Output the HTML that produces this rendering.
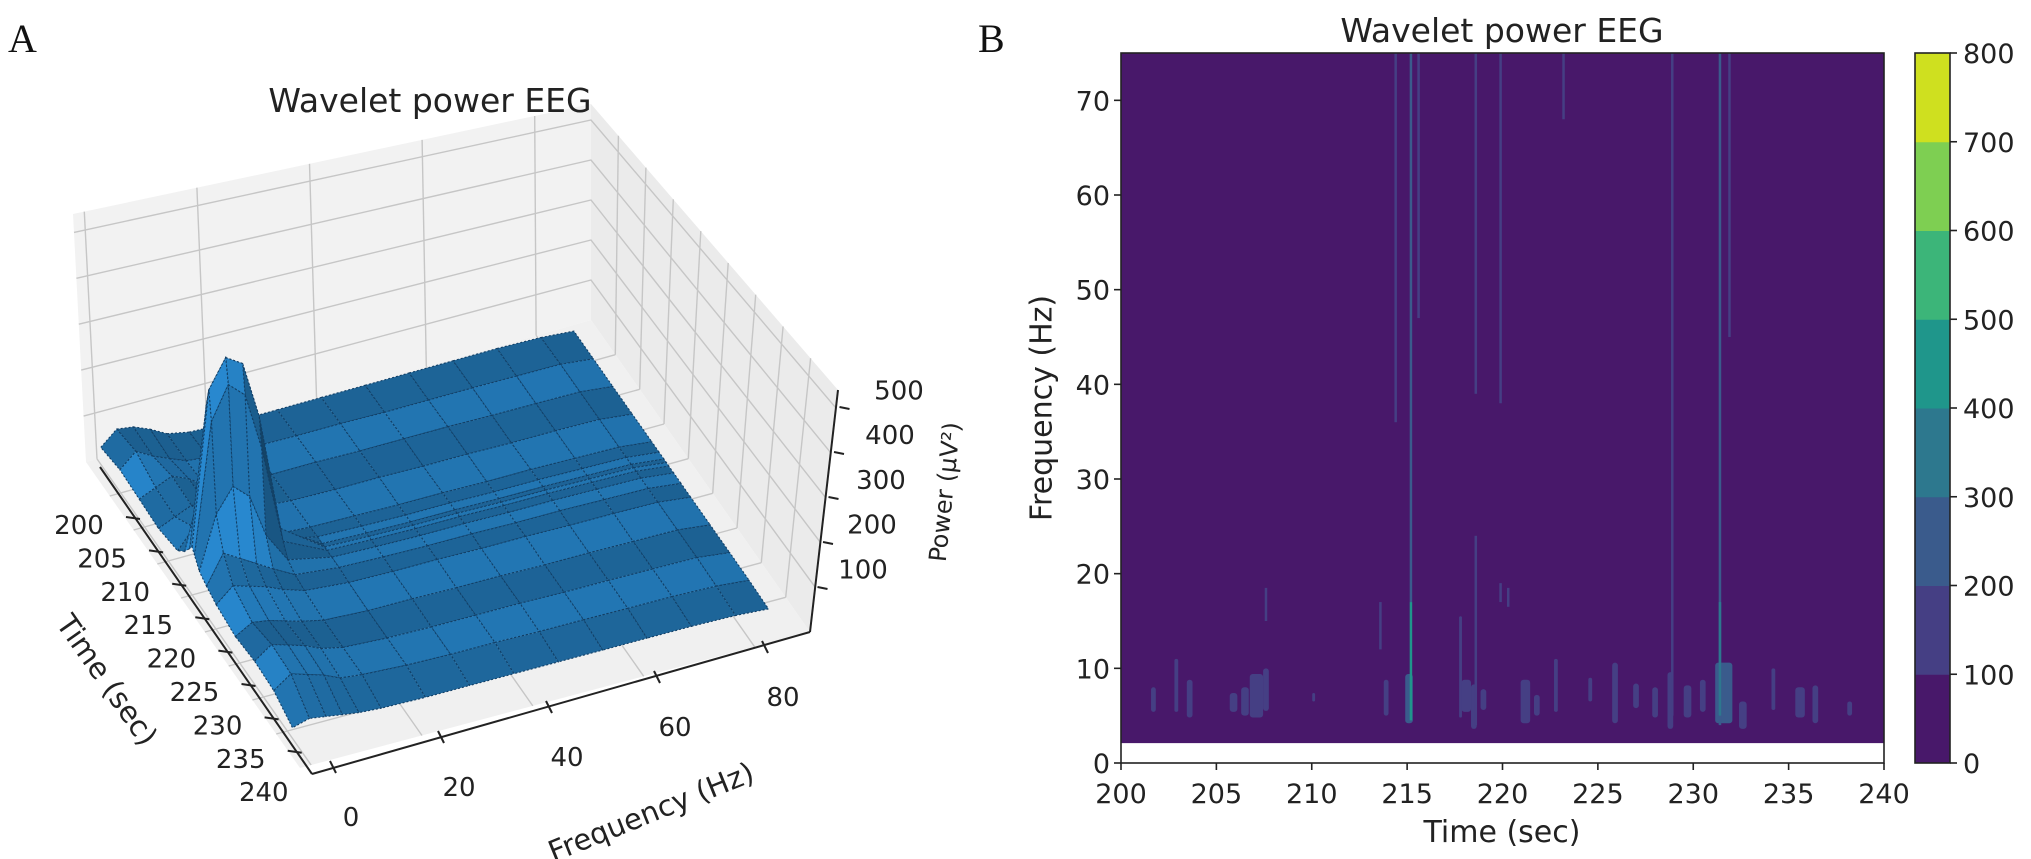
<!DOCTYPE html>
<html><head><meta charset="utf-8">
<style>
html,body{margin:0;padding:0;background:#fff;}
svg{display:block;font-family:"DejaVu Sans","Liberation Sans",sans-serif;}
</style></head>
<body>
<svg id="fig" width="2031" height="859" viewBox="0 0 2031 859" xmlns="http://www.w3.org/2000/svg">
  <text x="8" y="52" font-family="Liberation Serif, serif" font-size="40" fill="#111">A</text>
  <text x="978" y="52" font-family="Liberation Serif, serif" font-size="40" fill="#111">B</text>
  <g id="panelA"></g>
  <g id="panelB"></g>
</svg>
<script>
// ===== Panel A data =====
const surfTimes = [196,200,204,208,212,213.5,214.5,215,215.5,216.5,218,220,224,228,232,236];
const surfFreqs = [0,3,6,9,12,16,24,32,40,48,56,64,72,80,86];
const surfRow196 = [40,70,65,50,30,20,15,15,15,15,15,15,15,12,5];
const surfRow200 = [50,80,60,45,30,25,20,18,18,16,16,16,15,14,5];
const surfRow204 = [45,60,75,60,35,25,20,20,18,18,18,16,15,14,5];
const surfRow208 = [40,55,70,60,40,30,22,20,20,18,18,16,16,14,5];
const surfRow212 = [50,90,85,70,45,30,24,22,20,20,18,18,16,14,5];
const surfRow2135 = [70,200,260,230,130,45,25,22,20,20,18,18,16,14,5];
const surfRow2145 = [90,380,450,420,300,80,25,22,20,20,18,18,16,14,5];
const surfRow215 = [100,420,480,460,340,90,25,22,20,20,18,18,16,14,5];
const surfRow2155 = [90,360,430,400,280,70,25,22,20,20,18,18,16,14,5];
const surfRow2165 = [70,180,230,200,110,45,25,22,20,20,18,18,16,14,5];
const surfRow218 = [60,120,100,80,60,35,25,22,20,20,18,18,16,14,5];
const surfRow220 = [50,80,70,60,45,30,22,20,20,18,18,16,16,14,5];
const surfRow224 = [40,60,55,45,35,25,20,20,18,18,16,16,15,14,5];
const surfRow228 = [45,70,60,50,35,25,20,18,18,18,16,16,15,14,5];
const surfRow232 = [40,65,55,45,30,25,20,18,18,16,16,15,15,12,5];
const surfRow236 = [20,30,25,20,15,12,10,10,10,10,10,10,10,8,3];
const surfHeights = [surfRow196,surfRow200,surfRow204,surfRow208,surfRow212,surfRow2135,surfRow2145,surfRow215,surfRow2155,surfRow2165,surfRow218,surfRow220,surfRow224,surfRow228,surfRow232,surfRow236];
const timeTicks3d = [200,205,210,215,220,225,230,235,240];
const freqTicks3d = [0,20,40,60,80];
const powerTicks3d = [100,200,300,400,500];

// ===== Panel B data =====
const xTicksB = [200,205,210,215,220,225,230,235,240];
const yTicksB = [0,10,20,30,40,50,60,70];
const cbarLevels = [0,100,200,300,400,500,600,700,800];
const cbarColors = ['#48186a','#453f84','#3a5b8c','#2d788e','#1f968b','#3cb579','#7ecf52','#cfe01f'];
const streakTimes = [214.4,215.2,215.2,215.6,218.6,218.6,219.9,219.9,223.2,228.9,231.4,231.4,231.9,207.6,213.6,220.3];
const streakFmin  = [36,17,4.5,47,39,4,38,17,68,5,4,5,45,15,12,16.5];
const streakFmax  = [75,75,17,75,75,24,75,19,75,75,75,17,75,18.5,17,18.5];
const streakVals  = [150,220,450,150,160,180,160,150,130,180,260,320,140,150,150,150];
const blobTimes = [201.7,202.9,203.6,205.9,206.5,207.1,207.6,210.1,213.9,215.1,217.8,218.1,218.5,219.0,221.2,221.8,222.8,224.6,225.9,227.0,228.0,228.8,229.7,230.5,231.6,232.6,234.2,235.6,236.4,238.2];
const blobFmin  = [5.4,5.4,4.8,5.4,5.0,4.8,5.5,6.5,5.0,4.2,4.8,5.4,3.6,5.6,4.2,5.0,5.4,6.5,4.2,5.8,4.8,3.6,4.8,5.4,4.2,3.6,5.6,4.8,4.2,5.0];
const blobFmax  = [8.0,11,8.8,7.4,8.0,9.4,10,7.4,8.8,9.4,15.5,8.8,8.3,7.8,8.8,7.2,11,9.0,10.6,8.4,8.0,9.6,8.2,8.8,10.6,6.5,10,8.0,8.2,6.5];
const blobWidth = [0.25,0.2,0.3,0.4,0.4,0.7,0.3,0.15,0.25,0.4,0.15,0.5,0.3,0.3,0.5,0.3,0.2,0.2,0.3,0.3,0.3,0.3,0.4,0.3,0.9,0.4,0.2,0.5,0.3,0.25];
const blobVals  = [150,150,150,150,150,160,160,150,150,200,150,160,180,150,170,150,150,150,160,150,150,160,150,150,240,160,150,160,160,150];

const NS='http://www.w3.org/2000/svg';
function mk(tag, attrs, parent){const e=document.createElementNS(NS,tag);for(const k in attrs)e.setAttribute(k,attrs[k]);parent.appendChild(e);return e;}

// ===== Panel A =====
(function(){
  const g=document.getElementById('panelA');
  const BL=[86,462],BR=[591,320],FR=[810,632],FL=[300,768];
  const BLt=[73,214],BRt=[591,104],FRt=[838,390];
  const FLt=[FL[0]+(BLt[0]-BL[0])+(FRt[0]-FR[0])-(BRt[0]-BR[0]), FL[1]+(BLt[1]-BL[1])+(FRt[1]-FR[1])-(BRt[1]-BR[1])];
  const T0=195,T1=240,F0=-2,F1=90,ZMAX=540;
  function bil(a,b,c,d,u,v){const bx=a[0]+v*(b[0]-a[0]),by=a[1]+v*(b[1]-a[1]);const fx=c[0]+v*(d[0]-c[0]),fy=c[1]+v*(d[1]-c[1]);return [bx+u*(fx-bx),by+u*(fy-by)];}
  function P(t,f,z){const u=(t-T0)/(T1-T0),v=(f-F0)/(F1-F0);const b=bil(BL,BR,FL,FR,u,v),tp=bil(BLt,BRt,FLt,FRt,u,v);const w=z/ZMAX;return [b[0]+w*(tp[0]-b[0]),b[1]+w*(tp[1]-b[1])];}
  const pts=a=>a.map(p=>p[0].toFixed(1)+','+p[1].toFixed(1)).join(' ');

  let e;
  e=mk('polygon',{points:pts([BL,BR,BRt,BLt]),fill:'#f2f2f2',stroke:'none'},g);
  
  e=mk('polygon',{points:pts([BR,FR,FRt,BRt]),fill:'#ebebeb',stroke:'none'},g);
  
  e=mk('polygon',{points:pts([BL,BR,FR,FL]),fill:'#f0f0f0',stroke:'none'},g);
  

  const grid=mk('g',{stroke:'#c6c6c6','stroke-width':1.4,fill:'none'},g);
  
  freqTicks3d.forEach(f=>{
    mk('polyline',{points:pts([P(T0,f,0),P(T0,f,ZMAX)])},grid);
    mk('polyline',{points:pts([P(T0,f,0),P(T1,f,0)])},grid);
  });
  timeTicks3d.forEach(t=>{
    if(t>=T1)return;
    mk('polyline',{points:pts([P(t,F1,0),P(t,F1,ZMAX)])},grid);
    mk('polyline',{points:pts([P(t,F0,0),P(t,F1,0)])},grid);
  });
  powerTicks3d.forEach(z=>{
    mk('polyline',{points:pts([P(T0,F0,z),P(T0,F1,z),P(T1,F1,z)])},grid);
  });

  const surf=mk('g',{},g);
  
  const quads=[];
  for(let i=0;i<surfTimes.length-1;i++){
    for(let j=0;j<surfFreqs.length-1;j++){
      const t0=surfTimes[i],t1=surfTimes[i+1],f0=surfFreqs[j],f1=surfFreqs[j+1];
      const h=surfHeights;
      const key=((t0+t1)/2-T0)/(T1-T0)-((f0+f1)/2-F0)/(F1-F0);
      quads.push({key,i,j,poly:[P(t0,f0,h[i][j]),P(t0,f1,h[i][j+1]),P(t1,f1,h[i+1][j+1]),P(t1,f0,h[i+1][j])],
        dz:(h[i+1][j]+h[i+1][j+1]-h[i][j]-h[i][j+1])/2-(h[i][j+1]+h[i+1][j+1]-h[i][j]-h[i+1][j])/2});
    }
  }
  quads.sort((a,b)=>a.key-b.key);
  quads.forEach(q=>{
    let s=0.95+Math.max(-0.4,Math.min(0.15,-q.dz/300));
    if(q.i%2===0)s*=0.85;
    const col='rgb('+Math.round(36*s)+','+Math.round(124*s)+','+Math.round(188*s)+')';
    const p=mk('polygon',{points:pts(q.poly),fill:col,stroke:'#123f66','stroke-width':1.1,'stroke-dasharray':'2 2'},surf);
    
    
  });

  const ax=mk('g',{stroke:'#222','stroke-width':2,fill:'none'},g);
  
  const tp=t=>[133+(t-200)*4.62,518+(t-200)*6.68];
  const fp=f=>[333+5.4*f,767-1.5*f];
  const zp=z=>[815+0.055*z,632-0.45*z];
  e=mk('line',{x1:100,y1:467,x2:312,y2:774},ax);
  e=mk('line',{x1:312,y1:774,x2:810,y2:632},ax);
  e=mk('line',{x1:810,y1:632,x2:838,y2:390},ax);
  const lbl=mk('g',{fill:'#222','font-size':26,'text-anchor':'middle','dominant-baseline':'central'},g);
  
  timeTicks3d.forEach(t=>{
    const p=tp(t);
    if(t<240){const l=mk('line',{x1:p[0]-7,y1:p[1]-1,x2:p[0]+7,y2:p[1]+1},ax);}
    const tx=mk('text',{x:p[0]-54,y:p[1]+8},lbl);tx.textContent=t;
    
  });
  freqTicks3d.forEach(f=>{
    const p=fp(f);
    const l=mk('line',{x1:p[0]-3,y1:p[1]-6,x2:p[0]+3,y2:p[1]+6},ax);
    
    const tx=mk('text',{x:p[0]+18,y:p[1]+51},lbl);tx.textContent=f;
    
  });
  powerTicks3d.forEach(z=>{
    const p=zp(z);
    const l=mk('line',{x1:p[0]-3,y1:p[1],x2:p[0]+7,y2:p[1]+2},ax);
    
    const tx=mk('text',{x:838+0.09*z+16,y:615-0.447*z},lbl);tx.textContent=z;
    
  });
})();

// ===== Panel B =====
(function(){
  const g=document.getElementById('panelB');
  const X0=1121,X1=1884,Y0=763,Y1=53;
  const xs=t=>X0+(t-200)*(X1-X0)/40;
  const ys=f=>Y0-f*(Y0-Y1)/75;
  const colorOf=v=>cbarColors[Math.max(0,Math.min(7,Math.floor(v/100)))];
  let e;
  e=mk('rect',{x:X0,y:Y1,width:X1-X0,height:ys(2.1)-Y1,fill:cbarColors[0]},g);
  
  const marks=mk('g',{},g);
  
  blobTimes.forEach((t,i)=>{
    const w=Math.max(2.5,blobWidth[i]*(X1-X0)/40);
    const r=mk('rect',{x:xs(t)-w/2,y:ys(blobFmax[i]),width:w,height:ys(blobFmin[i])-ys(blobFmax[i]),rx:Math.min(w/2,3),fill:colorOf(blobVals[i])},marks);
    
    
  });
  streakTimes.forEach((t,i)=>{
    const w=2.5;
    const r=mk('rect',{x:xs(t)-w/2,y:ys(streakFmax[i]),width:w,height:ys(streakFmin[i])-ys(streakFmax[i]),fill:colorOf(streakVals[i])},marks);
    
    
  });
  e=mk('rect',{x:X0,y:Y1,width:X1-X0,height:Y0-Y1,fill:'none',stroke:'#222','stroke-width':1.6},g);
  
  const tk=mk('g',{fill:'#222','font-size':27},g);
  
  xTicksB.forEach(t=>{
    const l=mk('line',{x1:xs(t),y1:Y0,x2:xs(t),y2:Y0+7,stroke:'#222','stroke-width':1.6},tk);
    
    const tx=mk('text',{x:xs(t),y:Y0+40,'text-anchor':'middle'},tk);tx.textContent=t;
    
  });
  yTicksB.forEach(f=>{
    const l=mk('line',{x1:X0-7,y1:ys(f),x2:X0,y2:ys(f),stroke:'#222','stroke-width':1.6},tk);
    
    const tx=mk('text',{x:X0-11,y:ys(f)+10,'text-anchor':'end'},tk);tx.textContent=f;
    
  });
  const CX=1915,CW=35;
  const cs=v=>Y0-(v/800)*(Y0-Y1);
  const cb=mk('g',{},g);
  
  cbarColors.forEach((c,i)=>{
    const r=mk('rect',{x:CX,y:cs(cbarLevels[i+1]),width:CW,height:cs(cbarLevels[i])-cs(cbarLevels[i+1])+0.5,fill:c},cb);
    
  });
  e=mk('rect',{x:CX,y:Y1,width:CW,height:Y0-Y1,fill:'none',stroke:'#222','stroke-width':1.6},cb);
  
  cbarLevels.forEach(v=>{
    const l=mk('line',{x1:CX+CW,y1:cs(v),x2:CX+CW+7,y2:cs(v),stroke:'#222','stroke-width':1.6},cb);
    
    const tx=mk('text',{x:CX+CW+13,y:cs(v)+10,'font-size':27,fill:'#222'},cb);tx.textContent=v;
    
  });
})();
</script>
<div style="position:absolute;left:0;top:0;width:2031px;height:859px;pointer-events:none;">
  <svg width="2031" height="859" style="position:absolute;left:0;top:0;font-family:'DejaVu Sans','Liberation Sans',sans-serif;">
    <text x="430" y="112" font-size="33" text-anchor="middle" fill="#222">Wavelet power EEG</text>
    <text x="1502" y="42" font-size="33" text-anchor="middle" fill="#222">Wavelet power EEG</text>
    <text transform="translate(107,680) rotate(55)" font-size="29" text-anchor="middle" dominant-baseline="central" fill="#222">Time (sec)</text>
    <text transform="translate(651,812) rotate(-22)" font-size="29" text-anchor="middle" dominant-baseline="central" fill="#222">Frequency (Hz)</text>
    <text transform="translate(945,492) rotate(-84)" font-size="24" text-anchor="middle" dominant-baseline="central" fill="#222">Power (μV²)</text>
    <text transform="translate(1042,408) rotate(-90)" font-size="30" text-anchor="middle" dominant-baseline="central" fill="#222">Frequency (Hz)</text>
    <text x="1502" y="842" font-size="30" text-anchor="middle" fill="#222">Time (sec)</text>
  </svg>
</div>
</body></html>
